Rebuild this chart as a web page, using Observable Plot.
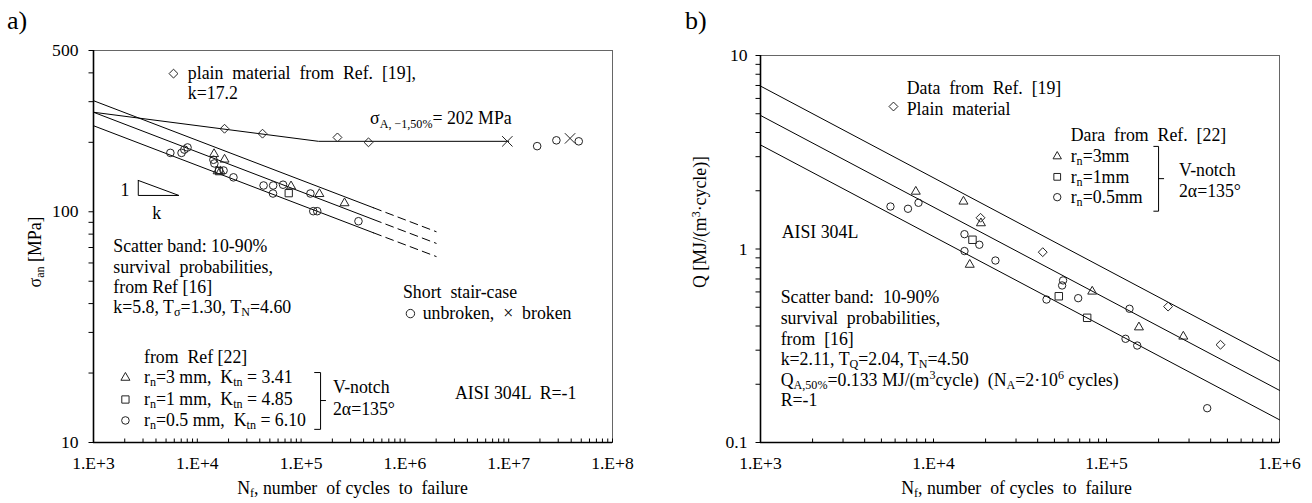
<!DOCTYPE html>
<html><head><meta charset="utf-8">
<script src="https://cdn.jsdelivr.net/npm/d3@7"></script>
<script src="https://cdn.jsdelivr.net/npm/@observablehq/plot@0.6"></script>
<style>
body{margin:0;background:#fff;}
#wrap{position:relative;width:1312px;height:503px;display:flex;overflow:hidden;}
#wrap svg{flex:none;display:block;}
.lbl{position:absolute;font-family:"Liberation Serif","Times New Roman",serif;font-size:26px;line-height:26px;color:#000;}
</style></head><body>
<div id="wrap"><div class="lbl" style="left:7px;top:8px">a)</div><div class="lbl" style="left:685px;top:8px">b)</div></div>
<script>
// ---------------- Panel a data: sigma_an [MPa] vs N_f ----------------
const aCircN = [5.5e3, 7.05e3, 7.5e3, 8.05e3, 1.43e4, 1.46e4, 1.79e4, 2.23e4, 4.35e4, 5.38e4, 6.7e4, 5.36e4, 1.23e5, 1.31e5, 1.43e5, 3.57e5];
const aCircS = [180, 180, 186, 190, 168, 162, 151, 141, 130, 130, 131, 120, 120, 100.6, 100.6, 91];
const aTriN = [1.45e4, 1.83e4, 1.57e4, 1.67e4, 8.0e4, 1.5e5, 2.62e5];
const aTriS = [178, 168.5, 150, 150, 129, 119.5, 109];
const aSqN = [1.62e4, 7.6e4];
const aSqS = [150, 120.4];
const aPlainN = [1.83e4, 4.25e4, 2.24e5, 4.46e5];
const aPlainS = [229, 218, 210, 200];
const aRunoutN = [1.88e7, 2.88e7, 4.73e7];
const aRunoutS = [192.5, 204, 202];
const aBrokenN = [9.7e6, 3.9e7];
const aBrokenS = [202, 208];
// fitted curves
const aPlainLineN = [1e3, 1.47e5, 1e7];
const aPlainLineS = [270, 202, 202];
const aBandN = [1e3, 5e5, 2e6];      // solid to 5e5, dashed to 2e6
const aBand90 = [303, 104, 82];
const aBand50 = [270, 92.5, 73];
const aBand10 = [236, 81, 64];
const aXTickLabels = ["1.E+3", "1.E+4", "1.E+5", "1.E+6", "1.E+7", "1.E+8"];
const aXMajor = [1e3, 1e4, 1e5, 1e6, 1e7, 1e8];
const aYMajor = [10, 100, 500];

// ---------------- Panel b data: Q [MJ/(m3 cycle)] vs N_f ----------------
const bTriN = [7.9e3, 1.49e4, 1.88e4, 1.62e4, 8.27e4, 1.54e5, 2.78e5];
const bTriQ = [1.98, 1.76, 1.36, 0.83, 0.603, 0.394, 0.353];
const bSqN = [1.68e4, 5.3e4, 7.73e4];
const bSqQ = [1.116, 0.57, 0.441];
const bCircN = [5.64e3, 7.12e3, 8.19e3, 1.51e4, 1.84e4, 1.51e4, 2.28e4, 5.61e4, 5.54e4, 4.5e4, 6.86e4, 1.358e5, 1.288e5, 1.505e5, 3.82e5];
const bCircQ = [1.658, 1.614, 1.733, 1.193, 1.052, 0.976, 0.872, 0.688, 0.648, 0.548, 0.557, 0.491, 0.3435, 0.317, 0.1504];
const bPlainN = [1.87e4, 4.28e4, 2.27e5, 4.56e5];
const bPlainQ = [1.45, 0.963, 0.504, 0.32];
const bBandN = [1e3, 1e6];
const bBand90 = [6.95, 0.263];
const bBand50 = [4.9, 0.186];
const bBand10 = [3.45, 0.131];
const bXTickLabels = ["1.E+3", "1.E+4", "1.E+5", "1.E+6"];
const bXMajor = [1e3, 1e4, 1e5, 1e6];
const bYMajor = [0.1, 1, 10];
const bYTickLabels = ["0.1", "1", "10"];

// ---------------- helpers ----------------
const FONT = '"Liberation Serif","Times New Roman",serif';
const FS = 17.8;
const rows = (xs, ys) => xs.map((x, i) => ({x, y: ys[i]}));
const tickUp = {draw(c) { c.moveTo(0, 0); c.lineTo(0, -4); }};
const tickLeft = {draw(c) { c.moveTo(0, 0); c.lineTo(-5, 0); }};

function richText(items) {
  return (index, scales, values, dims) => {
    const g = d3.create("svg:g").attr("font-family", FONT).attr("fill", "#000");
    for (const it of items) {
      const fs = it.fs || FS;
      const [x, y] = it.pos ? it.pos(dims) : [scales.x(it.x), scales.y(it.y)];
      const t = g.append("text").attr("x", x).attr("y", y + 0.35 * fs).attr("font-size", fs)
        .attr("text-anchor", it.anchor || "start").style("white-space", "pre");
      if (it.rotate) t.attr("transform", `rotate(${it.rotate} ${x} ${y})`);
      let cur = 0;
      for (const p of it.parts) {
        const [s, mode] = Array.isArray(p) ? p : [p, null];
        const target = mode === "sub" ? 0.17 * fs : mode === "sup" ? -0.36 * fs : 0;
        const ts = t.append("tspan").text(s);
        if (target !== cur) ts.attr("dy", target - cur);
        if (mode) ts.attr("font-size", fs * 0.68);
        cur = target;
      }
    }
    return g.node();
  };
}

const sym = (xs, ys, symbol, r) => Plot.dot(rows(xs, ys), {x: "x", y: "y", symbol, r, fill: "none", stroke: "#222", strokeWidth: 1});
const solid = (xs, ys) => Plot.line(rows(xs, ys), {x: "x", y: "y", stroke: "#000", strokeWidth: 1});
const dashed = (xs, ys) => Plot.line(rows(xs, ys), {x: "x", y: "y", stroke: "#000", strokeWidth: 1, strokeDasharray: "8,5"});

// ---------------- Panel a ----------------
const aXDom = [1e3, 1e8], aYDom = [10, 500];
const aXTicks = d3.scaleLog().domain(aXDom).ticks();
const aYTicks = d3.scaleLog().domain(aYDom).ticks();

const plotA = Plot.plot({
  width: 656, height: 503, marginLeft: 93, marginRight: 44, marginTop: 50, marginBottom: 61,
  style: {fontFamily: FONT, fontSize: "17.6px", color: "#000", background: "white", overflow: "visible"},
  x: {type: "log", domain: aXDom, ticks: aXMajor, tickFormat: d => aXTickLabels[aXMajor.indexOf(d)], tickSize: 0, tickPadding: 14, label: null},
  y: {type: "log", domain: aYDom, ticks: aYMajor, tickFormat: d => String(d), tickSize: 0, tickPadding: 15, label: null},
  marks: [
    Plot.frame({stroke: "#666", strokeWidth: 1}),
    Plot.ruleX([aXDom[0]], {stroke: "#000", strokeWidth: 1.6}),
    Plot.ruleY([aYDom[0]], {stroke: "#000", strokeWidth: 1.6}),
    Plot.dot(aXTicks, {x: d => d, y: () => aYDom[0], symbol: tickUp, fill: "none", stroke: "#000", strokeWidth: 1}),
    Plot.dot(aYTicks, {x: () => aXDom[0], y: d => d, symbol: tickLeft, fill: "none", stroke: "#000", strokeWidth: 1}),
    // fitted lines
    solid(aPlainLineN, aPlainLineS),
    ...[aBand90, aBand50, aBand10].flatMap(b => [solid(aBandN.slice(0, 2), b.slice(0, 2)), dashed(aBandN.slice(1), b.slice(1))]),
    // data
    sym(aPlainN, aPlainS, "diamond2", 4),
    sym(aCircN, aCircS, "circle", 3.8),
    sym(aTriN, aTriS, "triangle2", 4.3),
    sym(aSqN, aSqS, "square", 4.1),
    sym(aRunoutN, aRunoutS, "circle", 3.8),
    sym(aBrokenN, aBrokenS, "times", 4.8),
    // legend symbols and annotation graphics
    sym([5.9e3], [397], "diamond2", 4),
    sym([2.03e3], [19.1], "triangle2", 4.3),
    sym([2.03e3], [15.36], "square", 4.1),
    sym([2.03e3], [12.46], "circle", 3.8),
    sym([1.13e6], [36.2], "circle", 4.2),
    solid([2.7e3, 2.7e3, 6.64e3, 2.7e3], [136.7, 117.7, 117.7, 136.7]),
    solid([1.35e5, 1.54e5, 1.54e5, 1.35e5], [20.1, 20.1, 11.4, 11.4]),
    solid([1.54e5, 1.72e5], [15.2, 15.2]),
    richText([
      {x: 8.2e3, y: 397, parts: ["plain  material  from  Ref.  [19],"]},
      {x: 8.2e3, y: 325, parts: ["k=17.2"]},
      {x: 4.67e5, y: 253, parts: ["σ", ["A, −1,50%", "sub"], "= 202 MPa"]},
      {x: 2.03e3, y: 123.7, parts: ["1"], anchor: "middle"},
      {x: 4.11e3, y: 99, parts: ["k"], anchor: "middle"},
      {x: 1.57e3, y: 70.7, parts: ["Scatter band: 10-90%"]},
      {x: 1.57e3, y: 57.5, parts: ["survival  probabilities,"]},
      {x: 1.57e3, y: 47.1, parts: ["from Ref [16]"]},
      {x: 1.57e3, y: 38.6, parts: ["k=5.8, T", ["σ", "sub"], "=1.30, T", ["N", "sub"], "=4.60"]},
      {x: 3.1e3, y: 23.3, parts: ["from  Ref [22]"]},
      {x: 3.1e3, y: 19.1, parts: ["r", ["n", "sub"], "=3 mm,  K", ["tn", "sub"], " = 3.41"]},
      {x: 3.1e3, y: 15.36, parts: ["r", ["n", "sub"], "=1 mm,  K", ["tn", "sub"], " = 4.85"]},
      {x: 3.1e3, y: 12.46, parts: ["r", ["n", "sub"], "=0.5 mm,  K", ["tn", "sub"], " = 6.10"]},
      {x: 2.05e5, y: 17.3, parts: ["V-notch"]},
      {x: 2.05e5, y: 13.9, parts: ["2α=135°"]},
      {x: 3.07e6, y: 16.3, parts: ["AISI 304L  R=-1"]},
      {x: 9.69e5, y: 44.7, parts: ["Short  stair-case"]},
      {x: 1.5e6, y: 36.2, parts: ["unbroken,  ×  broken"]},
      {pos: d => [35, 252], rotate: -90, anchor: "middle", parts: ["σ", ["an", "sub"], " [MPa]"]},
      {pos: d => [(d.marginLeft + d.width - d.marginRight) / 2, d.height - 15], anchor: "middle", parts: ["N", ["f", "sub"], ", number  of cycles  to  failure"]}
    ])
  ]
});

// ---------------- Panel b ----------------
const bXDom = [1e3, 1e6], bYDom = [0.1, 10];
const bXTicks = d3.scaleLog().domain(bXDom).ticks();
const bYTicks = d3.scaleLog().domain(bYDom).ticks();

const plotB = Plot.plot({
  width: 656, height: 503, marginLeft: 104, marginRight: 33, marginTop: 55, marginBottom: 61,
  style: {fontFamily: FONT, fontSize: "17.6px", color: "#000", background: "white", overflow: "visible"},
  x: {type: "log", domain: bXDom, ticks: bXMajor, tickFormat: d => bXTickLabels[bXMajor.indexOf(d)], tickSize: 0, tickPadding: 14, label: null},
  y: {type: "log", domain: bYDom, ticks: bYMajor, tickFormat: d => bYTickLabels[bYMajor.indexOf(d)], tickSize: 0, tickPadding: 13, label: null},
  marks: [
    Plot.frame({stroke: "#666", strokeWidth: 1}),
    Plot.ruleX([bXDom[0]], {stroke: "#000", strokeWidth: 1.6}),
    Plot.ruleY([bYDom[0]], {stroke: "#000", strokeWidth: 1.6}),
    Plot.dot(bXTicks, {x: d => d, y: () => bYDom[0], symbol: tickUp, fill: "none", stroke: "#000", strokeWidth: 1}),
    Plot.dot(bYTicks, {x: () => bXDom[0], y: d => d, symbol: tickLeft, fill: "none", stroke: "#000", strokeWidth: 1}),
    solid(bBandN, bBand90),
    solid(bBandN, bBand50),
    solid(bBandN, bBand10),
    sym(bPlainN, bPlainQ, "diamond2", 4),
    sym(bCircN, bCircQ, "circle", 3.7),
    sym(bTriN, bTriQ, "triangle2", 4.3),
    sym(bSqN, bSqQ, "square", 4.2),
    // legend
    sym([5.87e3], [5.45], "diamond2", 4),
    sym([5.19e4], [3.01], "triangle2", 4.0),
    sym([5.19e4], [2.36], "square", 3.8),
    sym([5.19e4], [1.853], "circle", 3.7),
    solid([1.877e5, 2.0e5, 2.0e5, 1.877e5], [3.39, 3.39, 1.568, 1.568]),
    solid([2.0e5, 2.14e5], [2.31, 2.31]),
    richText([
      {x: 7.05e3, y: 6.81, parts: ["Data  from  Ref.  [19]"]},
      {x: 7.05e3, y: 5.26, parts: ["Plain  material"]},
      {x: 6.25e4, y: 3.86, parts: ["Dara  from  Ref.  [22]"]},
      {x: 6.25e4, y: 3.01, parts: ["r", ["n", "sub"], "=3mm"]},
      {x: 6.25e4, y: 2.36, parts: ["r", ["n", "sub"], "=1mm"]},
      {x: 6.25e4, y: 1.853, parts: ["r", ["n", "sub"], "=0.5mm"]},
      {x: 2.64e5, y: 2.545, parts: ["V-notch"]},
      {x: 2.64e5, y: 1.99, parts: ["2α=135°"]},
      {x: 1.335e3, y: 1.221, parts: ["AISI 304L"]},
      {x: 1.317e3, y: 0.5636, parts: ["Scatter band:  10-90%"]},
      {x: 1.317e3, y: 0.4389, parts: ["survival  probabilities,"]},
      {x: 1.317e3, y: 0.3435, parts: ["from  [16]"]},
      {x: 1.317e3, y: 0.2708, parts: ["k=2.11, T", ["Q", "sub"], "=2.04, T", ["N", "sub"], "=4.50"]},
      {x: 1.317e3, y: 0.2109, parts: ["Q", ["A,50%", "sub"], "=0.133 MJ/(m", ["3", "sup"], "cycle)  (N", ["A", "sub"], "=2·10", ["6", "sup"], " cycles)"]},
      {x: 1.317e3, y: 0.1662, parts: ["R=-1"]},
      {pos: d => [44, 222], rotate: -90, anchor: "middle", parts: ["Q [MJ/(m", ["3", "sup"], "·cycle)]"]},
      {pos: d => [(d.marginLeft + d.width - d.marginRight) / 2 - 3, d.height - 15], anchor: "middle", parts: ["N", ["f", "sub"], ", number  of cycles  to  failure"]}
    ])
  ]
});

const wrap = document.getElementById("wrap");
wrap.insertBefore(plotB, wrap.firstChild);
wrap.insertBefore(plotA, wrap.firstChild);
</script>
</body></html>
